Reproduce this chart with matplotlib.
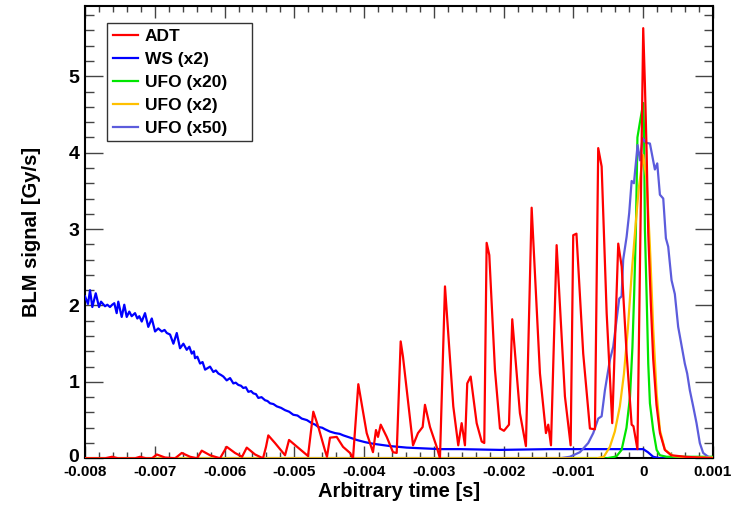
import matplotlib
matplotlib.use("Agg")
import matplotlib.pyplot as plt
import matplotlib.transforms as mtransforms
from matplotlib.ticker import MultipleLocator, FuncFormatter
from matplotlib.patches import Rectangle
import numpy as np

plt.rcParams['font.family'] = ['Liberation Sans', 'DejaVu Sans']
plt.rcParams['font.weight'] = 'bold'

# ---- data (time in ms, converted to s below) ----
adt_t = [-8.000, -7.712, -7.612, -7.526, -7.282, -7.211, -7.125, -7.039, -6.971, -6.853,
         -6.709, -6.613, -6.494, -6.394, -6.327, -6.208, -6.065, -5.969, -5.850, -5.749,
         -5.682, -5.563, -5.449, -5.406, -5.373, -5.277, -5.133, -5.076, -4.947, -4.804,
         -4.728, -4.656, -4.560, -4.532, -4.489, -4.393, -4.302, -4.202, -4.159, -4.083,
         -3.963, -3.873, -3.830, -3.801, -3.762, -3.676, -3.586, -3.533, -3.476, -3.443,
         -3.299, -3.228, -3.161, -3.128, -3.056, -2.960, -2.913, -2.841, -2.722, -2.651,
         -2.602, -2.555, -2.522, -2.473, -2.387, -2.315, -2.278, -2.244, -2.206, -2.125,
         -2.053, -1.996, -1.924, -1.877, -1.767, -1.681, -1.599, -1.480, -1.394, -1.361,
         -1.322, -1.241, -1.122, -1.040, -1.003, -0.957, -0.860, -0.764, -0.692, -0.645,
         -0.596, -0.524, -0.444, -0.358, -0.309, -0.238, -0.166, -0.140, -0.083, 0.000,
         0.024, 0.049, 0.072, 0.110, 0.143, 0.190, 0.240, 0.310, 0.400, 0.600, 1.000]
adt_v = [0.00, 0.00, 0.02, 0.00, 0.00, 0.02, 0.00, 0.00, 0.05, 0.01,
         0.00, 0.07, 0.02, 0.00, 0.10, 0.04, 0.00, 0.15, 0.07, 0.02,
         0.14, 0.05, 0.00, 0.15, 0.30, 0.20, 0.04, 0.24, 0.14, 0.03,
         0.61, 0.41, 0.10, 0.02, 0.27, 0.28, 0.15, 0.07, 0.00, 0.97,
         0.33, 0.08, 0.37, 0.28, 0.44, 0.28, 0.08, 0.07, 1.53, 1.33,
         0.17, 0.33, 0.41, 0.70, 0.41, 0.15, 0.00, 2.25, 0.68, 0.17,
         0.46, 0.17, 0.98, 1.07, 0.46, 0.22, 0.20, 2.82, 2.66, 1.16,
         0.39, 0.36, 0.44, 1.82, 0.59, 0.16, 3.28, 1.11, 0.33, 0.44,
         0.17, 2.79, 0.81, 0.17, 2.92, 2.94, 1.37, 0.39, 0.38, 4.06,
         3.82, 1.90, 0.46, 2.81, 2.51, 1.37, 0.44, 0.42, 0.12, 5.63,
         4.90, 4.00, 2.95, 2.00, 1.30, 0.70, 0.33, 0.11, 0.04, 0.02, 0.00]

ws_t = [-8.000, -7.957, -7.928, -7.895, -7.846, -7.799, -7.770, -7.713, -7.680, -7.642,
        -7.610, -7.580, -7.546, -7.523, -7.474, -7.437, -7.402, -7.365, -7.331, -7.283,
        -7.250, -7.222, -7.187, -7.140, -7.093, -7.043, -6.996, -6.950, -6.900, -6.860,
        -6.828, -6.781, -6.733, -6.685, -6.638, -6.590, -6.542, -6.505, -6.470, -6.440,
        -6.423, -6.390, -6.351, -6.315, -6.279, -6.208, -6.161, -6.125, -6.089, -6.050,
        -6.017, -5.969, -5.921, -5.874, -5.840, -5.802, -5.765, -5.731, -5.695, -5.659,
        -5.620, -5.588, -5.550, -5.516, -5.470, -5.420, -5.385, -5.348, -5.300, -5.252,
        -5.190, -5.133, -5.075, -5.015, -4.955, -4.894, -4.820, -4.751, -4.700, -4.656,
        -4.600, -4.560, -4.490, -4.417, -4.350, -4.298, -4.200, -4.106, -3.980, -3.868,
        -3.629, -3.390, -3.152, -2.913, -2.626, -2.053, -1.337, -0.620, 0.000, 0.067,
        0.143, 0.239, 1.000]
ws_v = [2.12, 2.02, 2.20, 1.98, 2.16, 1.98, 2.05, 1.99, 2.01, 1.98,
        2.01, 2.03, 1.90, 2.05, 1.85, 2.01, 1.85, 1.92, 1.86, 1.90,
        1.83, 1.86, 1.79, 1.90, 1.72, 1.83, 1.66, 1.70, 1.66, 1.68,
        1.64, 1.62, 1.50, 1.64, 1.44, 1.50, 1.42, 1.46, 1.37, 1.40,
        1.31, 1.33, 1.24, 1.26, 1.16, 1.20, 1.13, 1.15, 1.11, 1.09,
        1.07, 1.02, 1.05, 0.98, 0.99, 0.96, 0.95, 0.92, 0.93, 0.87,
        0.88, 0.85, 0.84, 0.79, 0.80, 0.76, 0.75, 0.72, 0.71, 0.68,
        0.66, 0.63, 0.61, 0.57, 0.56, 0.52, 0.50, 0.46, 0.44, 0.41,
        0.40, 0.38, 0.35, 0.33, 0.32, 0.30, 0.27, 0.24, 0.21, 0.19,
        0.16, 0.14, 0.13, 0.12, 0.12, 0.11, 0.12, 0.12, 0.12, 0.08,
        0.02, 0.00, 0.00]

ufo20_t = [-8.000, -0.523, -0.407, -0.380, -0.310, -0.240, -0.190, -0.155, -0.130, -0.105,
           -0.083, -0.047, 0.000, 0.012, 0.024, 0.049, 0.072, 0.096, 0.143, 0.192,
           0.239, 0.335, 1.000]
ufo20_v = [0.00, 0.00, 0.02, 0.03, 0.11, 0.40, 0.80, 1.45, 2.15, 3.00,
           4.20, 4.40, 4.65, 4.30, 3.00, 2.12, 1.24, 0.72, 0.37, 0.11,
           0.04, 0.02, 0.02]

ufo2_t = [-8.000, -0.665, -0.565, -0.478, -0.407, -0.335, -0.277, -0.220, -0.163, -0.105,
          -0.062, 0.000, 0.049, 0.096, 0.143, 0.192, 0.239, 0.311, 0.430, 0.668, 1.000]
ufo2_v = [0.00, 0.00, 0.02, 0.15, 0.35, 0.68, 1.10, 1.70, 2.45, 3.10,
          3.55, 3.97, 3.64, 2.77, 1.70, 0.85, 0.37, 0.11, 0.03, 0.01, 0.01]

ufo50_t = [-8.000, -1.194, -1.051, -0.907, -0.788, -0.716, -0.645, -0.596, -0.549, -0.477,
           -0.430, -0.382, -0.344, -0.310, -0.287, -0.238, -0.201, -0.166, -0.133, -0.081,
           -0.047, -0.009, 0.039, 0.096, 0.167, 0.201, 0.239, 0.287, 0.325, 0.358,
           0.406, 0.453, 0.501, 0.525, 0.596, 0.630, 0.668, 0.716, 0.764, 0.811,
           0.859, 0.931, 1.000]
ufo50_v = [0.00, 0.00, 0.02, 0.08, 0.20, 0.33, 0.52, 0.55, 0.89, 1.29,
           1.46, 1.81, 2.09, 2.12, 2.60, 2.90, 3.21, 3.63, 3.60, 4.10,
           3.90, 4.19, 4.13, 4.12, 3.78, 3.86, 3.45, 3.40, 2.88, 2.77,
           2.33, 2.15, 1.72, 1.60, 1.24, 1.11, 0.89, 0.68, 0.46, 0.20,
           0.07, 0.02, 0.00]

labels = ["ADT", "WS (x2)", "UFO (x20)", "UFO (x2)", "UFO (x50)"]
colors = ["#ff0000", "#0000ff", "#00e600", "#ffc000", "#5c5cdc"]

x_ticks = [-0.008, -0.007, -0.006, -0.005, -0.004, -0.003, -0.002, -0.001, 0.0, 0.001]
y_ticks = [0, 1, 2, 3, 4, 5]

W, H = 741, 505
fig = plt.figure(figsize=(W / 100, H / 100), dpi=100)
ax = fig.add_axes([85/W, 1-458.3/H, 628/W, 452.3/H])

series = [(adt_t, adt_v), (ws_t, ws_v), (ufo20_t, ufo20_v), (ufo2_t, ufo2_v), (ufo50_t, ufo50_v)]
zorders = [6, 3, 4, 5, 4.5]
for (t, v), lab, c, z in zip(series, labels, colors, zorders):
    ax.plot(np.array(t) * 1e-3, v, color=c, lw=1.6, label=lab, zorder=z)

ax.set_xlim(-0.008, 0.001)
ax.set_ylim(0, 5.92)
ax.set_xticks(x_ticks)
ax.set_yticks(y_ticks)
ax.xaxis.set_minor_locator(MultipleLocator(0.0002))
ax.yaxis.set_minor_locator(MultipleLocator(0.2))
ax.xaxis.set_major_formatter(FuncFormatter(lambda v, p: f"{round(v, 6):g}"))

ax.tick_params(axis='both', which='both', direction='in', top=True, right=True, color='#444444')
ax.tick_params(axis='x', which='major', length=8.5, width=1, labelsize=11, pad=5)
ax.tick_params(axis='x', which='minor', length=4.5, width=1)
ax.tick_params(axis='y', which='major', length=13, width=1, labelsize=14, pad=4)
ax.tick_params(axis='y', which='minor', length=6.5, width=1)
for lbl in ax.get_xticklabels() + ax.get_yticklabels():
    lbl.set_fontweight('bold')
for s in ax.spines.values():
    s.set_linewidth(1.5)
    s.set_color('black')

# nudge the y "0" label up a little so it does not collide with "-0.008"
ylbl0 = ax.get_yticklabels()[0]
ylbl0.set_transform(ylbl0.get_transform() + mtransforms.ScaledTranslation(0, 3/100, fig.dpi_scale_trans))

ax.set_xlabel("Arbitrary time [s]", fontsize=14.5, fontweight='bold', labelpad=2)
ax.set_ylabel("BLM signal [Gy/s]", fontsize=14.5, fontweight='bold', labelpad=20)

# legend box drawn explicitly (figure pixels 107..252 x 23..141)
box = Rectangle((107/W, 1-141/H), (252-107)/W, (141-23)/H, transform=fig.transFigure,
                facecolor='white', edgecolor='#333333', lw=1.0, zorder=9)
ax.add_artist(box)
box.set_clip_on(False)
leg = ax.legend(loc='upper left', bbox_to_anchor=(107/W, 1-23/H), bbox_transform=fig.transFigure,
                borderaxespad=0, frameon=False,
                prop={'weight': 'bold', 'size': 12.5}, handlelength=1.45, handletextpad=0.4,
                labelspacing=0.46, borderpad=0.32)
leg.set_zorder(10)

fig.savefig("out.png", dpi=100)
